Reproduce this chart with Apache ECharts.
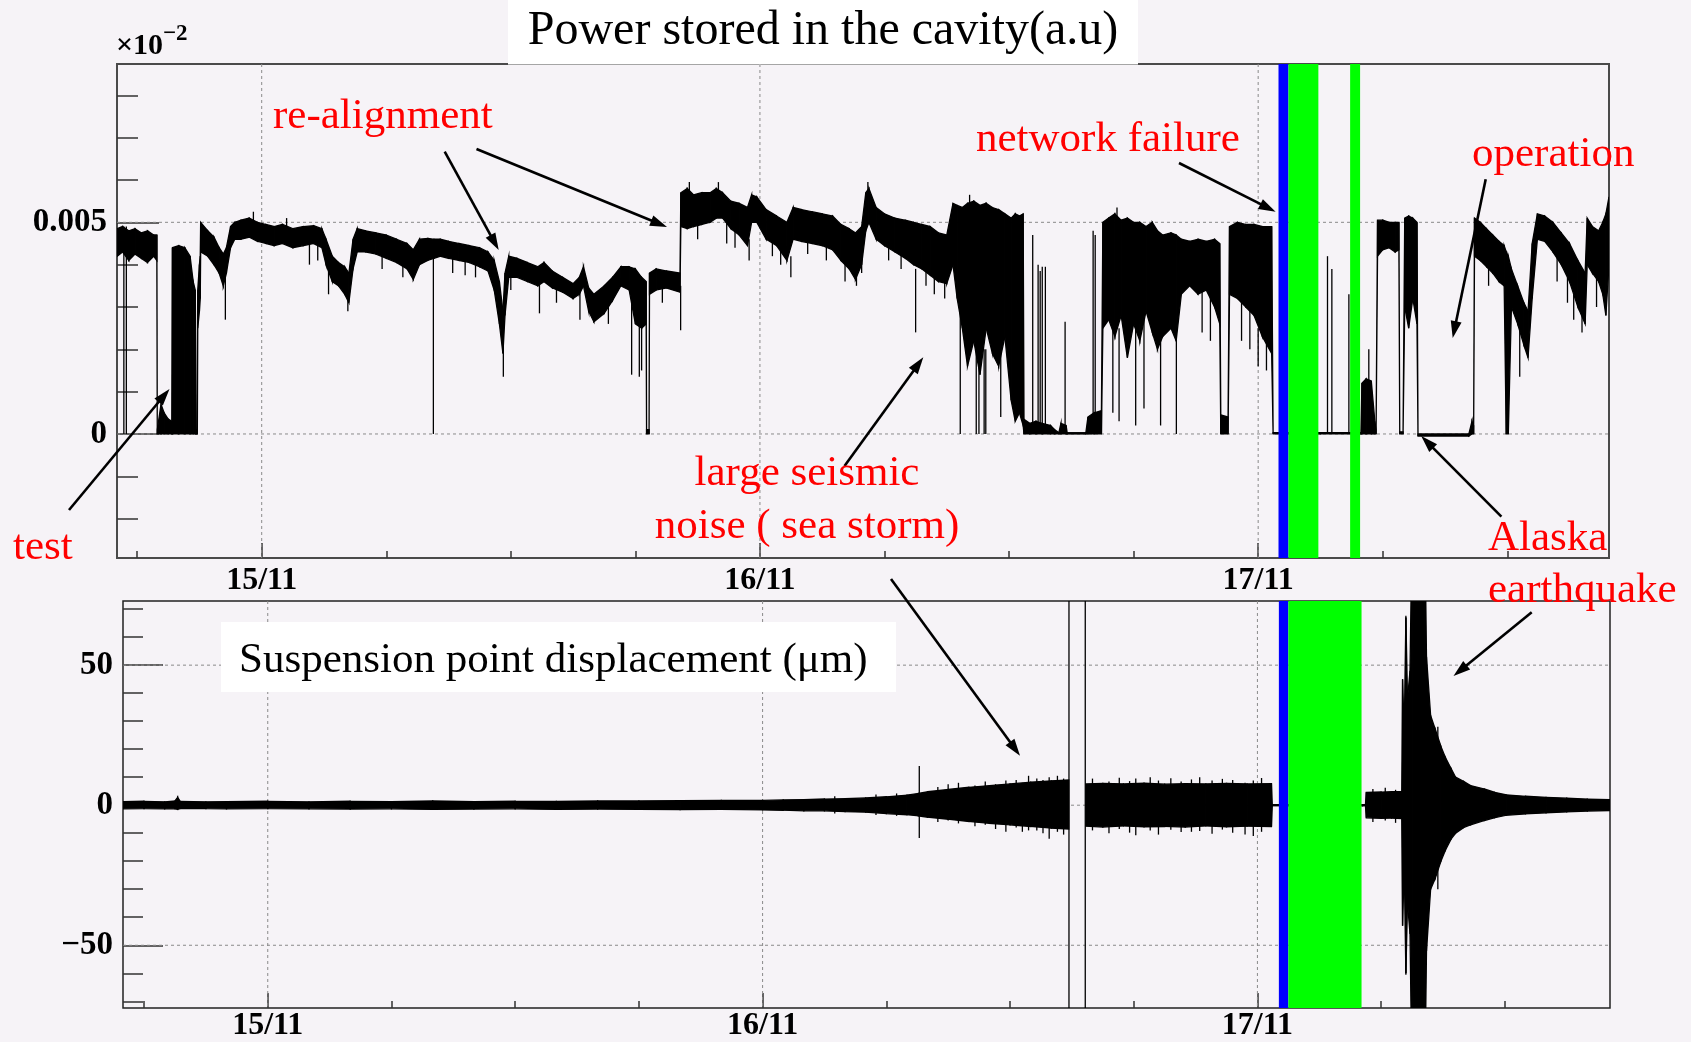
<!DOCTYPE html>
<html><head><meta charset="utf-8">
<script src="https://cdn.jsdelivr.net/npm/echarts@6/dist/echarts.min.js"></script>
<style>html,body{margin:0;padding:0;background:#f6f3f7;}#c{width:1691px;height:1042px;}</style>
</head><body><div id="c"></div>
<script>
// ---------------- DATA (hours relative to 15/11 00:00) ----------------
// Top panel: power stored in the cavity, envelope of the dense trace (units of 1e-3 a.u.)
const powerT  = [-6.96,-6.7,-6.4,-6.1,-5.8,-5.5,-5.2,-5.05,-5.03,-4.85,-4.7,-4.5,-4.33,-4.3,-4.0,-3.7,-3.45,-3.3,-3.2,-3.15,-3.1,-3.08,-3.0,-2.96,-2.94,-2.6,-2.3,-2.05,-1.85,-1.7,-1.5,-1.3,-1.0,-0.6,-0.2,0.2,0.6,1.0,1.5,2.0,2.5,2.9,3.1,3.4,3.7,4.0,4.2,4.4,4.6,5.0,5.5,6.0,6.5,7.0,7.3,7.6,8.0,8.3,8.6,9.0,9.5,10.0,10.5,10.9,11.2,11.45,11.62,11.72,11.9,12.3,12.8,13.3,13.6,14.0,14.5,15.0,15.3,15.5,15.75,16.0,16.5,16.9,17.3,17.7,18.0,18.3,18.52,18.54,18.66,18.68,19.0,19.5,20.15,20.19,20.5,20.8,21.2,21.6,21.9,22.2,22.6,23.0,23.4,23.6,23.85,24.3,24.8,25.3,25.6,26.0,26.5,27.0,27.5,27.9,28.3,28.6,28.9,29.1,29.25,29.6,30.0,30.5,31.0,31.4,31.8,32.2,32.6,33.0,33.3,33.5,33.75,34.0,34.3,34.6,34.9,35.2,35.5,35.8,36.1,36.3,36.5,36.68,36.72,37.0,37.3,37.6,38.0,38.2,38.4,38.5,38.75,38.8,39.7,39.8,40.1,40.45,40.52,40.8,41.1,41.4,41.7,42.0,42.3,42.6,42.9,43.15,43.4,43.8,44.05,44.3,44.7,45.1,45.5,45.9,46.15,46.2,46.55,46.62,47.0,47.4,47.8,48.2,48.65,48.72,51.0,52.95,53.0,53.2,53.45,53.62,53.68,53.75,54.0,54.3,54.6,54.78,54.82,54.98,55.06,55.25,55.45,55.65,55.7,58.15,58.3,58.38,58.42,58.7,59.0,59.3,59.6,59.85,59.95,60.05,60.2,60.5,60.8,61.0,61.2,61.45,61.8,62.2,62.6,63.0,63.4,63.75,63.85,64.1,64.4,64.6,64.75,64.9];
const powerLo = [4.2,4.3,4.1,4.25,4.15,4.05,4.2,4.1,0,0,0,0,0,0,0,0,0,0,0,0,0,2.5,2.9,3.2,4.3,4.2,4.0,3.8,3.5,3.8,4.4,4.6,4.6,4.65,4.55,4.5,4.45,4.5,4.4,4.45,4.5,4.4,4.0,3.6,3.5,3.3,3.1,3.9,4.3,4.3,4.25,4.15,4.05,3.9,3.65,4.0,4.1,4.15,4.2,4.15,4.1,4.05,3.95,3.85,3.4,2.6,1.9,2.8,3.7,3.7,3.6,3.5,3.6,3.45,3.35,3.2,3.3,3.5,2.9,2.65,2.85,3.15,3.5,3.4,2.6,2.5,2.6,0,0,3.3,3.4,3.45,3.35,4.9,4.85,4.9,4.95,5.0,5.1,5.1,4.85,4.7,4.45,5.0,5.0,4.6,4.45,4.1,4.6,4.55,4.5,4.45,4.35,4.1,3.9,3.65,4.0,4.8,5.0,4.6,4.45,4.3,4.15,4.0,3.9,3.75,3.6,3.55,4.0,3.2,2.5,1.6,2.2,1.4,2.5,1.9,1.6,2.3,0.8,0.3,0.5,0.2,0,0,0,0,0,0,0,0,0,0,0,0,0,0,2.5,2.7,2.3,2.8,1.8,2.6,2.2,2.9,2.4,2.0,2.3,2.5,2.2,3.3,3.5,3.3,3.4,3.0,2.6,0,0,3.3,3.2,3.0,2.8,2.3,1.9,0,0,0,0,0,0,0,0,4.2,4.35,4.4,4.3,4.35,0,0,3.0,2.5,3.2,2.6,-0.05,-0.05,0,0,4.2,4.1,3.95,3.8,3.6,3.5,0,0,3.0,2.6,2.1,1.8,3.2,4.6,4.55,4.3,4.0,3.6,3.0,2.6,4.0,3.8,3.6,3.3,2.8,4.0];
const powerHi = [4.85,4.9,4.8,4.85,4.75,4.8,4.7,4.7,0.1,0.7,0.5,0.35,0.3,4.4,4.45,4.4,4.2,3.6,3.4,0.1,0.1,3.4,4.0,4.2,5.0,4.8,4.65,4.4,4.25,4.4,4.9,5.0,5.05,5.1,5.0,4.95,4.9,4.95,4.85,4.9,4.92,4.85,4.6,4.2,4.05,3.95,3.8,4.6,4.85,4.8,4.75,4.7,4.6,4.5,4.35,4.6,4.62,4.6,4.6,4.55,4.5,4.45,4.4,4.3,4.1,3.6,2.9,3.8,4.2,4.15,4.05,3.95,4.05,3.85,3.7,3.55,3.7,3.95,3.45,3.3,3.5,3.7,3.95,3.95,3.9,3.7,3.6,0.1,0.1,3.8,3.9,3.85,3.8,5.7,5.8,5.65,5.7,5.7,5.8,5.7,5.5,5.45,5.35,5.65,5.6,5.3,5.15,5.0,5.35,5.3,5.25,5.2,5.15,4.95,4.85,4.75,4.9,5.7,5.8,5.35,5.2,5.1,5.05,5.0,4.95,4.9,4.75,4.7,5.45,5.4,5.35,5.45,5.5,5.4,5.45,5.35,5.3,5.2,5.1,5.2,5.15,5.2,0.35,0.25,0.3,0.25,0.2,0.1,0.03,0.25,0.2,0.03,0.03,0.4,0.5,0.55,5.0,5.1,5.2,5.05,5.1,5.0,5.0,4.9,5.0,4.8,4.7,4.75,4.7,4.6,4.55,4.6,4.55,4.6,4.5,0.45,0.4,4.9,5.0,4.95,4.95,4.9,4.9,0.03,0.03,0.03,1.2,1.3,1.25,0.3,0.1,5.05,5.05,5.0,5.0,5.0,0.05,0.05,5.1,5.15,5.1,5.0,0,0,0.3,0.2,5.1,5.0,4.85,4.7,4.55,4.45,4.3,4.2,3.9,3.5,3.1,2.9,4.5,5.2,5.15,5.0,4.75,4.5,4.1,3.8,5.1,4.9,4.8,5.0,5.2,5.6];
// Thin drops and hairs of the power trace
const powerSpikeT  = [-6.64,-6.52,-1.75,3.22,4.15,8.27,11.64,13.38,15.33,17.82,18.19,18.3,20.18,23.48,25.49,28.65,28.9,31.5,33.65,34.42,34.55,34.8,34.88,35.6,37.14,37.4,37.5,37.6,37.75,38.7,40.05,40.15,41.0,41.3,42.1,42.5,43.3,44.06,51.34,51.55,52.37,53.33,60.6,
  2.3,2.7,5.8,6.8,9.2,9.8,10.3,12.0,14.2,16.7,19.3,21.0,22.4,22.8,24.6,25.0,26.3,27.2,28.1,30.2,30.8,32.0,32.4,32.9,45.3,45.7,47.2,47.6,48.0,48.4,59.1,62.4,62.9,63.2,63.6,64.3,
  -0.4,1.2,20.6,22.0,29.2,34.1,41.2];
const powerSpikeLo = [0,0,2.7,3.3,2.9,0,1.35,2.85,2.7,1.4,1.35,1.5,2.45,4.1,3.7,3.5,3.8,2.4,0,0,0,0,0,0.4,0,0,0,0,0,0,0,0,0.5,0.3,0.2,0.6,0.2,0,0,0,0,0,1.35,
  4.0,4.1,3.9,3.7,3.8,3.75,3.7,3.4,3.1,2.6,3.1,4.6,4.5,4.4,4.2,4.0,4.25,4.1,3.6,4.1,3.9,3.5,3.3,3.2,2.4,2.2,2.2,2.0,1.6,1.5,3.5,3.6,3.1,2.7,2.4,3.0,
  4.9,4.8,5.6,5.7,5.6,5.3,5.0];
const powerSpikeHi = [4.9,4.9,4.0,4.3,3.4,4.3,2.5,3.6,3.4,3.5,3.0,3.0,3.5,4.6,4.2,3.9,4.5,3.9,3.0,2.0,2.0,2.0,2.0,2.0,4.7,4.0,3.85,3.95,3.95,2.65,4.8,4.7,2.5,2.5,2.5,2.7,2.5,2.5,4.2,3.9,3.3,2.0,2.8,
  4.6,4.6,4.4,4.2,4.3,4.2,4.2,3.9,3.6,3.1,3.6,5.1,5.0,4.9,4.7,4.5,4.7,4.6,4.2,4.5,4.4,4.0,3.9,3.7,3.5,3.4,3.3,3.0,2.5,2.4,4.0,4.2,3.7,3.3,3.0,3.7,
  5.25,5.1,5.95,5.95,5.95,5.65,5.35];
// Bottom panel: suspension point displacement envelope (micrometres); null = no data
const dispT  = [-7.02,-6.0,-5.0,-4.5,-4.37,-4.25,-3.0,-2.0,0.0,2.0,4.0,6.0,8.0,10.0,12.0,14.0,16.0,18.0,20.0,22.0,24.0,25.0,26.0,27.0,28.0,29.0,30.0,31.0,31.55,32.0,33.0,34.0,35.0,36.0,37.0,38.0,38.85,39.2,39.68,40.5,41.5,42.5,43.5,44.5,45.5,46.5,47.5,48.68,48.72,49.2,53.1,53.24,53.28,54.0,54.5,55.0,55.04,55.12,55.2,55.28,55.4,55.5,56.12,56.2,56.4,56.63,56.9,57.12,57.4,57.61,58.0,58.34,59.0,59.5,60.06,61.0,62.0,63.0,64.0,65.1];
const dispLo = [-1.3,-1.2,-1.3,-1.3,-1.5,-1.2,-1.2,-1.3,-1.2,-1.3,-1.4,-1.3,-1.5,-1.4,-1.3,-1.5,-1.4,-1.5,-1.6,-1.5,-1.7,-1.8,-2.0,-2.0,-2.3,-2.5,-3.0,-3.4,-3.8,-4.3,-5.0,-5.8,-6.5,-7.0,-7.6,-8.2,-8.5,null,-7.5,-7.8,-7.4,-7.7,-7.6,-7.8,-7.4,-7.7,-7.5,-7.6,-0.2,-0.2,-0.2,-0.2,-4.5,-4.7,-4.6,-4.8,-43,-22,-60,-35,-46,-100,-100,-52,-30,-26,-20,-16,-12,-10,-8,-7,-5.5,-4.5,-3.6,-3.1,-2.7,-2.4,-2.1,-1.9];
const dispHi = [1.3,1.4,1.2,1.5,2.8,1.4,1.2,1.3,1.4,1.2,1.4,1.3,1.5,1.3,1.4,1.4,1.5,1.5,1.6,1.7,1.7,1.9,2.0,2.2,2.3,2.6,3.0,3.6,4.2,4.8,5.6,6.4,7.0,7.6,8.2,8.7,9.0,null,7.6,7.8,7.6,7.9,7.5,7.7,7.6,7.8,7.6,7.7,0.2,0.2,0.2,0.2,4.6,4.7,4.8,4.8,45,26,67,38,48,100,100,53,32,27,21,17,13,10,8.5,7,5.8,4.6,3.7,3.2,2.8,2.5,2.2,2.0];
const dispSpikeT  = [31.6,33.5,35.8,36.9,37.9,38.86,39.65,42.1,44.8,47.4,55.2,56.75,
  27.5,29.5,30.5,32.5,33.0,34.3,34.8,35.3,36.3,36.6,37.3,37.6,38.3,38.6,40.0,40.8,41.3,41.8,42.8,43.2,43.8,44.3,45.2,45.8,46.3,46.8,47.8,48.2,53.6,54.2,54.7];
const dispSpikeLo = [-11.7,-6.5,-9.5,-9.0,-12,-100,-100,-10.7,-9.5,-10.5,-60.5,-30,
  -3,-3.5,-3.8,-6,-5.5,-7.5,-7,-8.5,-8,-9.5,-9,-10,-9.5,-10.5,-9,-10,-8.5,-9.8,-9,-10.5,-8.8,-9.6,-9.2,-10.2,-8.7,-9.8,-11,-9.5,-6,-5.5,-6.3];
const dispSpikeHi = [14,8,8.8,10.5,10,100,100,9.5,9.2,8,67.6,28,
  3.2,3.8,4.2,6.5,7.5,7,8.5,7.5,9,8,9.5,9,10.5,9.5,9.5,8.5,9.8,8.6,10,8.8,9.6,8.5,10,8.8,9.4,9,8.8,9.7,5.8,6.2,5.5];
// Coloured periods (blue / green)
const topBandStart = [48.98,49.46,52.43];
const topBandEnd   = [49.46,50.90,52.91];
const topBandKind  = ['blue','green','green'];
const botBandStart = [49.04,49.50];
const botBandEnd   = [49.50,53.05];
const botBandKind  = ['blue','green'];
// Axis ticks and labels
const minorHours = [-6,6,12,18,30,36,42,54,60];
const dayHours   = [0,24,48];
const dayLabels  = ['15/11','16/11','17/11'];
const topMinorY  = [-2,-1,1,2,3,4,6,7,8];
const topMajorY  = [0,5];
const topYLabels = ['0','0.005'];
const botMinorY  = [-70,-60,-40,-30,-20,-10,10,20,30,40,60,70];
const botMajorY  = [-50,0,50];
const botYLabels = ['\u221250','0','50'];

// ---------------- BUILD ----------------
const KIND_COLOR = {blue:'#0000ff', green:'#00ff00'};
function segments(T, LO, HI){
  const out=[];
  for(let i=0;i<T.length-1;i++){
    if(LO[i]==null||LO[i+1]==null) continue;
    out.push([T[i],LO[i],HI[i],T[i+1],LO[i+1],HI[i+1]]);
  }
  return out;
}
function spikes(T,LO,HI){ return T.map((t,i)=>[t,LO[i],HI[i]]); }
function bandsData(S,E){ return S.map((s,i)=>[s,E[i]]); }

function renderSeg(params, api){
  const a=api.coord([api.value(0),api.value(2)]);
  const b=api.coord([api.value(3),api.value(5)]);
  const c=api.coord([api.value(3),api.value(4)]);
  const d=api.coord([api.value(0),api.value(1)]);
  return {type:'polygon',shape:{points:[a,b,c,d]},style:{fill:'#000',stroke:'#000',lineWidth:1.3}};
}
function renderSpike(params, api){
  const a=api.coord([api.value(0),api.value(1)]);
  const b=api.coord([api.value(0),api.value(2)]);
  return {type:'line',shape:{x1:a[0],y1:a[1],x2:b[0],y2:b[1]},style:{stroke:'#000',lineWidth:1.3}};
}
function makeBandRender(kinds){
  return function(params, api){
    const cs=params.coordSys;
    const x0=api.coord([api.value(0),0])[0];
    const x1=api.coord([api.value(1),0])[0];
    return {type:'rect',shape:{x:x0,y:cs.y,width:x1-x0,height:cs.height},style:{fill:KIND_COLOR[kinds[params.dataIndex]]}};
  };
}
function gridLineRender(params, api){
  const cs=params.coordSys;
  const v=api.value(0), vert=api.value(1);
  let shape;
  if(vert){ const x=api.coord([v,0])[0]; shape={x1:x,y1:cs.y,x2:x,y2:cs.y+cs.height}; }
  else { const y=api.coord([0,v])[1]; shape={x1:cs.x,y1:y,x2:cs.x+cs.width,y2:y}; }
  return {type:'line',shape,style:{stroke:'#8a8a8a',lineWidth:1,lineDash:[3,3]}};
}

const SERIF='"Liberation Serif","Times New Roman",serif';
const tickStyle={color:'#333',width:1.5};
const noLine={show:false,onZero:false};
function xAxes(grid,min,max,margin){
  return [
    {gridIndex:grid,type:'value',min,max,position:'bottom',axisLine:noLine,
     axisTick:{show:true,inside:true,length:7,customValues:minorHours,lineStyle:tickStyle},
     axisLabel:{show:false},splitLine:{show:false}},
    {gridIndex:grid,type:'value',min,max,position:'bottom',axisLine:noLine,
     axisTick:{show:true,inside:true,length:15,customValues:dayHours,lineStyle:tickStyle},
     axisLabel:{show:true,customValues:dayHours,margin,color:'#000',fontFamily:SERIF,fontWeight:'bold',fontSize:32,
       formatter:(v)=>dayLabels[dayHours.indexOf(v)]},splitLine:{show:false}}
  ];
}
function yAxes(grid,min,max,minor,major,labels,minorLen,majorLen,margin){
  return [
    {gridIndex:grid,type:'value',min,max,position:'left',axisLine:noLine,
     axisTick:{show:true,inside:true,length:minorLen,customValues:minor,lineStyle:tickStyle},
     axisLabel:{show:false},splitLine:{show:false}},
    {gridIndex:grid,type:'value',min,max,position:'left',axisLine:noLine,
     axisTick:{show:true,inside:true,length:majorLen,customValues:major,lineStyle:tickStyle},
     axisLabel:{show:true,customValues:major,margin,color:'#000',fontFamily:SERIF,fontWeight:'bold',fontSize:33,
       formatter:(v)=>labels[major.indexOf(v)]},splitLine:{show:false}}
  ];
}

function arrow(x1,y1,x2,y2){
  const dx=x2-x1,dy=y2-y1,L=Math.hypot(dx,dy),ux=dx/L,uy=dy/L,hl=17,hw=5.5;
  const bx=x2-ux*hl,by=y2-uy*hl;
  return [
    {type:'line',z:100,shape:{x1,y1,x2:bx+ux*2,y2:by+uy*2},style:{stroke:'#000',lineWidth:2.6}},
    {type:'polygon',z:100,shape:{points:[[x2,y2],[bx-uy*hw,by+ux*hw],[bx+uy*hw,by-ux*hw]]},style:{fill:'#000'}}
  ];
}
function txt(text,x,y,size,color,align,weight){
  return {type:'text',z:101,style:{text,x,y,fill:color,font:(weight||'normal')+' '+size+'px '+SERIF,textAlign:align||'left',textVerticalAlign:'middle'}};
}

const graphics=[
  {type:'rect',z:99,shape:{x:508,y:0,width:630,height:64.5},style:{fill:'#fff'}},
  txt('Power stored in the cavity(a.u)',823,31,48,'#000','center'),
  {type:'rect',z:99,shape:{x:221,y:622,width:675,height:70},style:{fill:'#fff'}},
  txt('Suspension point displacement (\u03bcm)',239,661,43,'#000','left'),
  txt('\u00d710',116,46,30,'#000','left','bold'),
  txt('\u22122',163,34,23,'#000','left','bold'),
  txt('re-alignment',273,117,43,'#ff0000'),
  txt('network failure',976,140,43,'#ff0000'),
  txt('operation',1472,155,43,'#ff0000'),
  txt('large seismic',807,474,43,'#ff0000','center'),
  txt('noise ( sea storm)',807,527,43,'#ff0000','center'),
  txt('test',13,548,43,'#ff0000'),
  txt('Alaska',1488,539,43,'#ff0000'),
  txt('earthquake',1488,591,43,'#ff0000'),
  ...arrow(69,510,169.5,389),
  ...arrow(444.7,151.7,498.7,250),
  ...arrow(476.5,149,667,227),
  ...arrow(1179,163,1275.6,211.7),
  ...arrow(1485.7,179.3,1452.7,338),
  ...arrow(1501.4,516.7,1421.2,436),
  ...arrow(844.5,466,923.3,357.3),
  ...arrow(891,579,1020,755.7),
  ...arrow(1531.7,612.3,1453.5,676)
];

const option={
  backgroundColor:'#f6f3f7',
  animation:false,
  grid:[
    {left:117,top:64,width:1492,height:494,show:true,borderColor:'#4a4a4a',borderWidth:2,backgroundColor:'transparent'},
    {left:123,top:601,width:1487,height:408,show:true,borderColor:'#222',borderWidth:1.5,backgroundColor:'transparent'}
  ],
  xAxis:[...xAxes(0,-6.97,64.9,7), ...xAxes(1,-7.02,65.1,2)],
  yAxis:[...yAxes(0,-2.93,8.74,topMinorY,topMajorY,topYLabels,21,42,10),
         ...yAxes(1,-72.4,72.9,botMinorY,botMajorY,botYLabels,20,40,10)],
  series:[
    {type:'custom',xAxisIndex:0,yAxisIndex:0,z:1,silent:true,renderItem:gridLineRender,
     data:[...topMajorY.map(v=>[v,0]),...dayHours.map(v=>[v,1])]},
    {type:'custom',xAxisIndex:2,yAxisIndex:2,z:1,silent:true,renderItem:gridLineRender,
     data:[...botMajorY.map(v=>[v,0]),...dayHours.map(v=>[v,1])]},
    {type:'custom',name:'power',xAxisIndex:0,yAxisIndex:0,z:2,clip:true,silent:true,renderItem:renderSeg,
     data:segments(powerT,powerLo,powerHi)},
    {type:'custom',xAxisIndex:0,yAxisIndex:0,z:2,clip:true,silent:true,renderItem:renderSpike,
     data:spikes(powerSpikeT,powerSpikeLo,powerSpikeHi)},
    {type:'custom',xAxisIndex:0,yAxisIndex:0,z:3,silent:true,renderItem:makeBandRender(topBandKind),
     data:bandsData(topBandStart,topBandEnd)},
    {type:'custom',name:'displacement',xAxisIndex:2,yAxisIndex:2,z:2,clip:true,silent:true,renderItem:renderSeg,
     data:segments(dispT,dispLo,dispHi)},
    {type:'custom',xAxisIndex:2,yAxisIndex:2,z:2,clip:true,silent:true,renderItem:renderSpike,
     data:spikes(dispSpikeT,dispSpikeLo,dispSpikeHi)},
    {type:'custom',xAxisIndex:2,yAxisIndex:2,z:3,silent:true,renderItem:makeBandRender(botBandKind),
     data:bandsData(botBandStart,botBandEnd)}
  ],
  graphic:graphics
};
const chart=echarts.init(document.getElementById('c'));
chart.setOption(option);
</script>
</body></html>
